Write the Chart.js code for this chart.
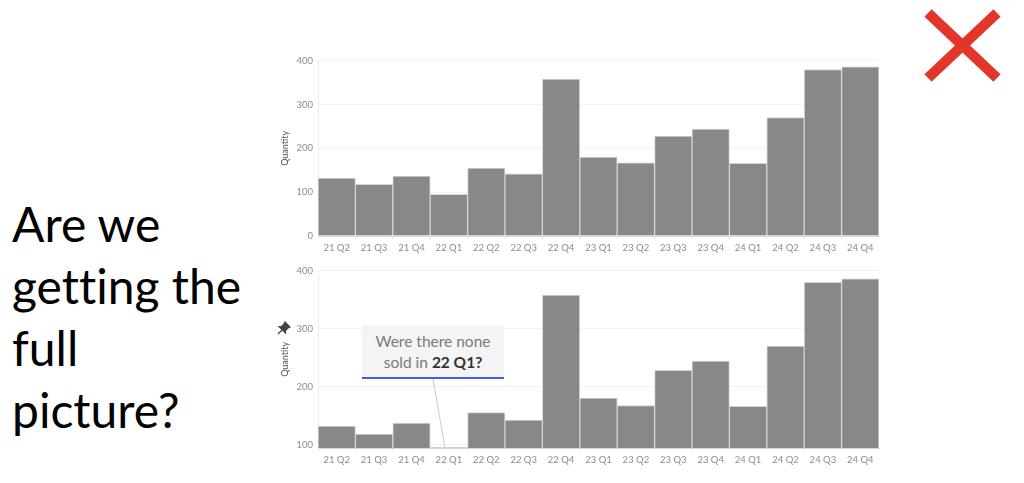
<!DOCTYPE html>
<html>
<head>
<meta charset="utf-8">
<script src="https://cdn.jsdelivr.net/npm/chart.js@4"></script>
<style>
  html, body { margin: 0; padding: 0; background: #fff; }
  body { width: 1024px; height: 483px; position: relative; overflow: hidden; font-family: Lato, sans-serif; }
  .box { position: absolute; }
  #headline {
    position: absolute; left: 12px; top: 193px;
    font-family: Lato, sans-serif; font-size: 48px; line-height: 62px; color: #000;
    font-variant-ligatures: none;
  }
  #note {
    position: absolute; left: 362px; top: 325px; width: 142px;
    background: #f4f4f4; border-bottom: 2px solid #3d5fe0;
    font-family: Lato, sans-serif; font-size: 15.5px; line-height: 21px; color: #7a7a7a;
    text-align: center; padding-top: 6px; box-sizing: border-box; height: 54px;
  }
  #note b { color: #333; }
  #pin { position: absolute; left: 277px; top: 321px; }
  #cross { position: absolute; left: 0; top: 0; }
</style>
</head>
<body>
<div id="headline">Are we<br>getting the<br>full<br>picture?</div>

<div class="box" style="left:270px; top:50px; width:611px; height:210px;"><canvas id="topChart"></canvas></div>
<div class="box" style="left:270px; top:260px; width:611px; height:212px;"><canvas id="bottomChart"></canvas></div>

<div id="note">Were there none<br>sold in <b>22 Q1?</b></div>

<svg id="pin" width="14" height="14" viewBox="0 0 14 14">
  <path d="M8 1 L13 6 L11 7 L8.5 9.5 L8.5 12 L2 5.5 L4.5 5.5 L7 3 Z M5 9 L1 13" fill="#444" stroke="#444" stroke-width="1.2"/>
</svg>

<svg id="cross" width="1024" height="100">
  <line x1="928" y1="13" x2="997" y2="78" stroke="#e3362a" stroke-width="10.5"/>
  <line x1="997" y1="13" x2="928" y2="78" stroke="#e3362a" stroke-width="10.5"/>
</svg>

<script>
const quarters = ['21 Q2', '21 Q3', '21 Q4', '22 Q1', '22 Q2', '22 Q3', '22 Q4', '23 Q1', '23 Q2', '23 Q3', '23 Q4', '24 Q1', '24 Q2', '24 Q3', '24 Q4'];
const quantity = [132, 118, 137, 95, 155, 142, 358, 180, 167, 228, 244, 166, 270, 380, 386];
const yTicksTop = [0, 100, 200, 300, 400];
const yTicksBottom = [100, 200, 300, 400];

// leader line from the note box down to the 22 Q1 bar
const leaderLine = {
    id: 'leaderLine',
    afterDatasetsDraw(chart) {
        const x = chart.scales.x.getPixelForValue(3) - 4;
        const y = chart.scales.y.getPixelForValue(quantity[3]);
        const ctx = chart.ctx;
        ctx.save();
        ctx.strokeStyle = '#c8c8c8';
        ctx.lineWidth = 1;
        ctx.beginPath();
        ctx.moveTo(433 - 270, 379 - 260);
        ctx.lineTo(x, y);
        ctx.stroke();
        ctx.restore();
    }
};

function makeChart(id, yMin, tickValues, padTop, plugins) {
    return new Chart(document.getElementById(id), {
        type: 'bar',
        data: {
            labels: quarters,
            datasets: [{
                label: 'Quantity',
                data: quantity,
                backgroundColor: '#888888',
                borderColor: '#d4d4d4',
                borderWidth: 1,
                borderSkipped: 'bottom',
                categoryPercentage: 1,
                barPercentage: 1
            }]
        },
        options: {
            responsive: true,
            maintainAspectRatio: false,
            animation: false,
            layout: { padding: { top: padTop, right: 2, bottom: 0, left: 0 } },
            plugins: {
                legend: { display: false },
                tooltip: { enabled: false }
            },
            scales: {
                x: {
                    afterFit: s => { s.height = 24; },
                    grid: { drawOnChartArea: false, tickLength: 3, color: '#e4e4e4' },
                    border: { color: '#d8d8d8' },
                    ticks: { color: '#8c8c8c', font: { family: 'Lato', size: 9.5 }, padding: 3, maxRotation: 0, autoSkip: false }
                },
                y: {
                    min: yMin,
                    max: 400,
                    afterFit: s => { s.width = 48; },
                    afterBuildTicks: s => { s.ticks = tickValues.map(v => ({ value: v })); },
                    grid: { color: '#f2f2f2', drawTicks: false },
                    border: { color: '#eeeeee' },
                    ticks: { color: '#8c8c8c', font: { family: 'Lato', size: 9.5 }, padding: 5 },
                    title: { display: true, text: 'Quantity', color: '#555', font: { family: 'Lato', size: 9 }, padding: { top: 10, bottom: 0 } }
                }
            }
        },
        plugins: plugins
    });
}

makeChart('topChart', 0, yTicksTop, 7, []);
makeChart('bottomChart', 94, yTicksBottom, 8, [leaderLine]);
</script>
</body>
</html>
